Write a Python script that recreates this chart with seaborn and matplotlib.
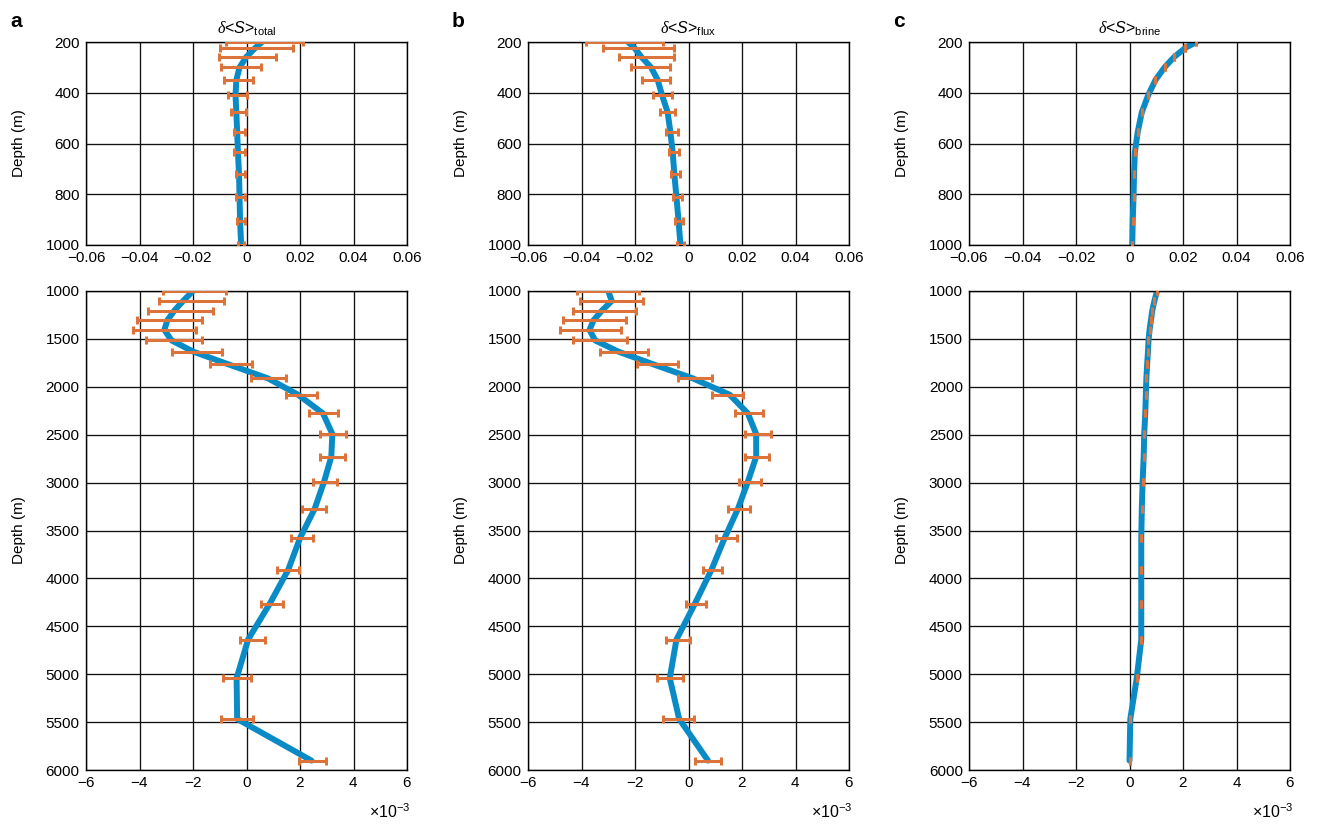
import numpy as np
import matplotlib
matplotlib.use("Agg")
import matplotlib.pyplot as plt
from matplotlib.ticker import ScalarFormatter
import seaborn as sns

# Model depth levels (m)
DEPTH = [200, 223, 258, 300, 350, 409, 477, 553, 635, 720, 812, 907,
         1000, 1104, 1205, 1306, 1406, 1516, 1633, 1765, 1913, 2083, 2278,
         2493, 2730, 2990, 3272, 3579, 3910, 4264, 4638, 5042, 5467, 5902]

# Salinity change profiles, in units of 1e-3
TOTAL_LINE = [5.8, 3.3, 0.0, -2.6, -3.8, -4.1, -3.8, -3.5, -3.2, -2.8, -2.6, -2.4,
              -2.0, -2.37, -2.70, -2.96, -3.07, -2.80, -1.99, -0.68, 0.81, 1.93, 2.86,
              3.21, 3.17, 2.90, 2.55, 2.00, 1.56, 0.87, 0.06, -0.37, -0.35, 2.43]
TOTAL_LO = [-7.8, -9.9, -10.1, -9.7, -8.4, -6.8, -5.7, -4.8, -4.5, -4.1, -3.8, -3.6,
            -3.11, -3.26, -3.67, -4.11, -4.23, -3.77, -2.78, -1.37, 0.15, 1.48, 2.34,
            2.74, 2.74, 2.49, 2.09, 1.66, 1.15, 0.54, -0.25, -0.88, -0.95, 1.97]
TOTAL_HI = [21.3, 17.3, 11.1, 5.6, 2.4, 0.2, -0.2, -0.4, -0.4, -0.6, -0.6, -0.6,
            -0.75, -0.85, -1.24, -1.66, -1.87, -1.66, -0.93, 0.21, 1.49, 2.65, 3.42,
            3.73, 3.70, 3.39, 2.96, 2.49, 1.95, 1.37, 0.68, 0.15, 0.25, 2.96]

FLUX_LINE = [-22.6, -20.2, -17.7, -14.0, -11.5, -9.9, -7.8, -6.8, -5.9, -5.3, -4.5, -3.7,
             -3.0, -2.87, -3.24, -3.55, -3.70, -3.49, -2.62, -1.32, 0.17, 1.54, 2.22,
             2.53, 2.53, 2.22, 1.85, 1.35, 0.86, 0.24, -0.45, -0.70, -0.35, 0.73]
FLUX_LO = [-38.4, -31.9, -26.1, -21.4, -17.3, -13.4, -10.5, -8.4, -7.4, -6.7, -5.9, -5.2,
           -4.17, -4.05, -4.32, -4.70, -4.80, -4.32, -3.30, -1.91, -0.39, 0.89, 1.74,
           2.11, 2.11, 1.88, 1.49, 1.04, 0.55, -0.10, -0.84, -1.19, -0.94, 0.26]
FLUX_HI = [-9.4, -5.6, -5.6, -6.8, -6.9, -6.3, -5.1, -4.1, -3.5, -3.1, -2.5, -2.0,
           -1.84, -1.71, -1.96, -2.33, -2.52, -2.29, -1.53, -0.40, 0.88, 2.04, 2.77,
           3.07, 3.01, 2.72, 2.29, 1.81, 1.27, 0.67, 0.05, -0.20, 0.20, 1.23]

BRINE_LINE = [25.0, 20.9, 16.8, 13.1, 9.7, 7.0, 4.6, 3.1, 2.0, 1.7, 1.5, 1.2,
              1.03, 0.93, 0.85, 0.80, 0.75, 0.71, 0.69, 0.66, 0.63, 0.61, 0.59,
              0.55, 0.53, 0.49, 0.46, 0.44, 0.44, 0.44, 0.44, 0.27, 0.03, 0.0]
# Ensemble spread of the brine term is negligible
BRINE_LO = BRINE_LINE
BRINE_HI = BRINE_LINE

UNIT = 1e-3

PANEL_LETTERS = ["a", "b", "c"]
PANEL_TITLES = [r"$\mathcal{\delta}$<$S$>$_{\mathrm{total}}$",
                r"$\mathcal{\delta}$<$S$>$_{\mathrm{flux}}$",
                r"$\mathcal{\delta}$<$S$>$_{\mathrm{brine}}$"]
PANEL_DATA = [(TOTAL_LINE, TOTAL_LO, TOTAL_HI),
              (FLUX_LINE, FLUX_LO, FLUX_HI),
              (BRINE_LINE, BRINE_LO, BRINE_HI)]

UPPER_XTICKS = [-0.06, -0.04, -0.02, 0.0, 0.02, 0.04, 0.06]
UPPER_XLABELS = ["\u22120.06", "\u22120.04", "\u22120.02", "0", "0.02", "0.04", "0.06"]
LOWER_XTICKS = [-6, -4, -2, 0, 2, 4, 6]
UPPER_DEPTH_TICKS = [200, 400, 600, 800, 1000]
LOWER_DEPTH_TICKS = [1000, 1500, 2000, 2500, 3000, 3500, 4000, 4500, 5000, 5500, 6000]
SCALE_LABEL = "\u00d710$^{-3}$"

BLUE = "#0a8bc6"
ORANGE = "#db733a"
FS = 11

sns.set_theme(style="white")
plt.rcParams["font.family"] = ["Liberation Sans", "DejaVu Sans"]
plt.rcParams["mathtext.fontset"] = "custom"
plt.rcParams["mathtext.rm"] = "Liberation Sans"
plt.rcParams["mathtext.it"] = "Liberation Sans:italic"
plt.rcParams["mathtext.cal"] = "Liberation Serif:italic"
plt.rcParams["axes.unicode_minus"] = True

fig = plt.figure(figsize=(13.17, 8.25), dpi=100)
W, H = 1317.0, 825.0
lefts = [86, 528, 969]
width = 321
upper_box = (42, 245)
lower_box = (291, 770)


def make_axes(left, box):
    top, bottom = box
    return fig.add_axes([left / W, 1 - bottom / H, width / W, (bottom - top) / H])


def style_axes(ax):
    ax.grid(True, color="#111111", linewidth=0.95)
    ax.set_axisbelow(True)
    for sp in ax.spines.values():
        sp.set_color("black")
        sp.set_linewidth(1.0)
    ax.tick_params(axis="both", length=0, labelsize=FS, colors="black", pad=4.5)
    ax.set_ylabel("Depth (m)", fontsize=FS, labelpad=14, color="black")


def draw_profile(ax, line, lo, hi):
    depth = np.array(DEPTH, dtype=float)
    x_line = np.array(line) * UNIT
    lo = np.array(lo) * UNIT
    hi = np.array(hi) * UNIT
    sns.lineplot(x=x_line, y=depth, orient="y", estimator=None, color=BLUE,
                 linewidth=4.3, ax=ax, zorder=2)
    ax.errorbar((lo + hi) / 2, depth, xerr=(hi - lo) / 2, fmt="none",
                ecolor=ORANGE, elinewidth=2.2, capsize=3.2, capthick=2.2, zorder=3)
    ax.set_xlabel("")


for i, (line, lo, hi) in enumerate(PANEL_DATA):
    ax_u = make_axes(lefts[i], upper_box)
    draw_profile(ax_u, line, lo, hi)
    ax_u.set_xlim(-0.06, 0.06)
    ax_u.set_ylim(1000, 200)
    ax_u.set_xticks(UPPER_XTICKS)
    ax_u.set_xticklabels(UPPER_XLABELS)
    ax_u.set_yticks(UPPER_DEPTH_TICKS)
    style_axes(ax_u)
    ax_u.set_title(PANEL_TITLES[i], fontsize=11.5, pad=6, color="black")

    ax_l = make_axes(lefts[i], lower_box)
    draw_profile(ax_l, line, lo, hi)
    ax_l.set_xlim(-6 * UNIT, 6 * UNIT)
    ax_l.set_ylim(6000, 1000)
    ax_l.set_xticks(np.array(LOWER_XTICKS) * UNIT)
    ax_l.set_yticks(LOWER_DEPTH_TICKS)
    fmt = ScalarFormatter(useMathText=True)
    fmt.set_powerlimits((-3, -3))
    ax_l.xaxis.set_major_formatter(fmt)
    ax_l.xaxis.get_offset_text().set_visible(False)
    style_axes(ax_l)
    ax_l.text(1.012, -48.0 / 479, SCALE_LABEL, transform=ax_l.transAxes,
              ha="right", va="baseline", fontsize=11.5, color="black")

    fig.text((lefts[i] - 76) / W, 1 - 27 / H, PANEL_LETTERS[i], fontsize=15,
             fontweight="bold", va="baseline", ha="left", color="black")

fig.savefig("out.png", dpi=100)
